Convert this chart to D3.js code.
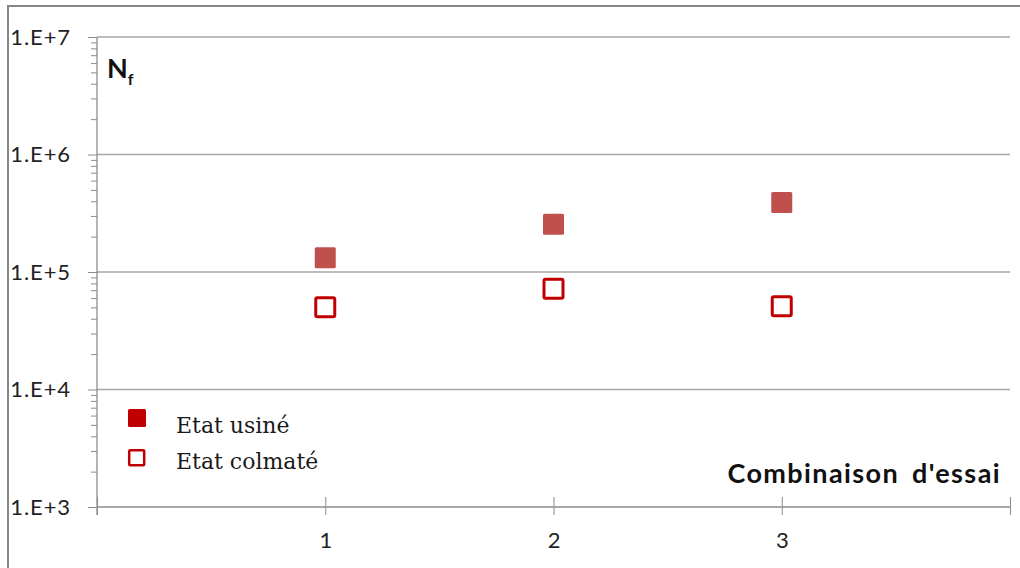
<!DOCTYPE html>
<html>
<head>
<meta charset="utf-8">
<script src="https://cdn.jsdelivr.net/npm/d3@7"></script>
<style>
  html, body { margin: 0; padding: 0; background: #fff; }
  svg { display: block; }
</style>
</head>
<body>
<svg id="chart" width="1020" height="568"></svg>
<script>
// ---- data ----
const categories = [1, 2, 3];
const etatUsine = [1.32e5, 2.55e5, 3.9e5];
const etatColmate = [5.0e4, 7.2e4, 5.1e4];
const yTickValues = [1e3, 1e4, 1e5, 1e6, 1e7];
const yTickLabels = ["1.E+3", "1.E+4", "1.E+5", "1.E+6", "1.E+7"];
const xTickValues = [0, 1, 2, 3, 4];
const xTickLabels = ["", "1", "2", "3", ""];
const legendLabels = ["Etat usiné", "Etat colmaté"];
const yTitle = "N";
const yTitleSub = "f";
const xTitle = "Combinaison d'essai";

const svg = d3.select("#chart");
const W = 1020, H = 568;
const L = 97, R = 1010, T = 37, B = 507;

svg.append("rect").attr("width", W).attr("height", H).attr("fill", "#fff");
// outer frame
svg.append("rect").attr("x", 8).attr("y", 6).attr("width", W + 10).attr("height", H + 10)
  .attr("fill", "none").attr("stroke", "#878787").attr("stroke-width", 2);

const x = d3.scaleLinear().domain([0, 4]).range([L, R]);
const y = d3.scaleLog().domain([1e3, 1e7]).range([B, T]);

// gridlines
svg.append("g").selectAll("line").data(yTickValues.filter(v => v > 1e3)).join("line")
  .attr("x1", L).attr("x2", R).attr("y1", d => y(d)).attr("y2", d => y(d))
  .attr("stroke", "#a6a6a6").attr("stroke-width", 1.3);

// minor y ticks
const minor = [];
for (let e = 3; e < 7; e++) for (let k = 2; k <= 9; k++) minor.push(k * Math.pow(10, e));
const minorAxis = svg.append("g").attr("transform", `translate(${L},0)`)
  .call(d3.axisLeft(y).tickValues(minor).tickSize(6).tickFormat(""));
minorAxis.select(".domain").remove();
minorAxis.selectAll("line").attr("stroke", "#8c8c8c");

// major y axis
const yAxis = svg.append("g").attr("transform", `translate(${L},0)`)
  .call(d3.axisLeft(y).tickValues(yTickValues).tickSize(9).tickPadding(17)
    .tickFormat((d, i) => yTickLabels[i]));
yAxis.select(".domain").attr("stroke", "#8c8c8c").attr("stroke-width", 1.3)
  .attr("d", `M0,${T}V${B + 8}`);
yAxis.selectAll("line").attr("stroke", "#8c8c8c");
yAxis.selectAll("text").attr("font-family", "Lato, 'Open Sans', sans-serif")
  .attr("font-size", 22).attr("letter-spacing", 0.9).attr("fill", "#222");

// x axis
const xAxis = svg.append("g").attr("transform", `translate(0,${B})`)
  .call(d3.axisBottom(x).tickValues(xTickValues).tickSize(8)
    .tickFormat((d, i) => xTickLabels[i]));
xAxis.select(".domain").attr("stroke", "#8c8c8c").attr("stroke-width", 1.3)
  .attr("d", `M${L},0H${R}`);
xAxis.selectAll(".tick line").attr("stroke", "#8c8c8c").attr("y1", -10);
xAxis.selectAll("text").attr("font-family", "Lato, 'Open Sans', sans-serif")
  .attr("font-size", 22).attr("fill", "#222").attr("y", 41).attr("dy", 0);

// markers
const usine = categories.map((c, i) => ({ c, v: etatUsine[i] }));
const colm = categories.map((c, i) => ({ c, v: etatColmate[i] }));
svg.append("g").selectAll("rect").data(usine).join("rect")
  .attr("x", d => x(d.c) - 10.5).attr("y", d => y(d.v) - 10.5)
  .attr("width", 21).attr("height", 21).attr("rx", 1.5)
  .attr("fill", "#c0504d");
svg.append("g").selectAll("rect").data(colm).join("rect")
  .attr("x", d => x(d.c) - 9.5).attr("y", d => y(d.v) - 9.5)
  .attr("width", 19).attr("height", 19).attr("rx", 1.5)
  .attr("fill", "#fff").attr("stroke", "#c00000").attr("stroke-width", 3);

// legend
const lg = svg.append("g");
lg.append("rect").attr("x", 128).attr("y", 409).attr("width", 18).attr("height", 18)
  .attr("rx", 1.5).attr("fill", "#c00000");
lg.append("rect").attr("x", 129.2).attr("y", 450.2).attr("width", 15).attr("height", 15)
  .attr("rx", 1).attr("fill", "#fff").attr("stroke", "#c00000").attr("stroke-width", 2.5);
lg.selectAll("text").data(legendLabels).join("text")
  .attr("x", 176).attr("y", (d, i) => 433 + i * 36)
  .attr("font-family", "'DejaVu Serif', serif").attr("font-size", 22)
  .attr("fill", "#1a1a1a").text(d => d);

// y title
const yt = svg.append("text").attr("x", 107).attr("y", 78)
  .attr("font-family", "Lato, 'Open Sans', sans-serif").attr("font-weight", "bold")
  .attr("font-size", 27).attr("fill", "#111");
yt.append("tspan").text(yTitle);
yt.append("tspan").attr("font-size", 16).attr("dy", 7).text(yTitleSub);

// x title
svg.append("text").attr("x", 1001).attr("y", 483).attr("text-anchor", "end")
  .attr("font-family", "Lato, 'Open Sans', sans-serif").attr("font-weight", "bold")
  .attr("font-size", 27).attr("letter-spacing", 1.4).attr("word-spacing", 5)
  .attr("fill", "#111")
  .text(xTitle);
</script>
</body>
</html>
